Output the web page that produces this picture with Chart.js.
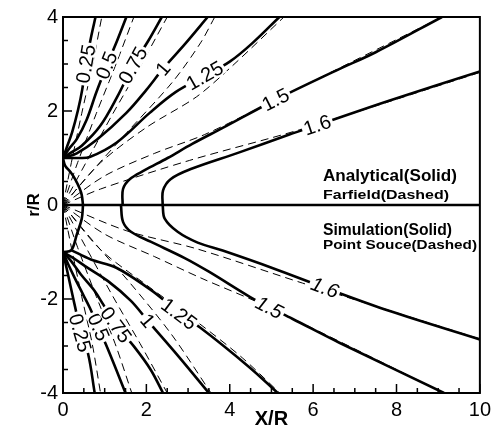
<!DOCTYPE html>
<html>
<head>
<meta charset="utf-8">
<script src="https://cdn.jsdelivr.net/npm/chart.js@4.4.1/dist/chart.umd.min.js"></script>
<style>
  html, body { margin: 0; padding: 0; background: #fff; }
  #wrap { width: 496px; height: 436px; }
</style>
</head>
<body>
<div id="wrap"><canvas id="chart"></canvas></div>
<script>
// contour levels (same for both halves)
const levels = ['0.25', '0.5', '0.75', '1', '1.25', '1.5', '1.6'];

// analytical solution, solid, r/R > 0  ([x, r] pairs)
const analytic025 = [[0, 1], [0.1, 1.25], [0.22, 1.55], [0.36, 2.02], [0.46, 2.45], [0.55, 3.0], [0.68, 3.6], [0.78, 4]];
const analytic05 = [[0, 1], [0.15, 1.2], [0.33, 1.4], [0.57, 1.82], [0.8, 2.4], [1.05, 2.97], [1.3, 3.5], [1.52, 4]];
const analytic075 = [[0, 1], [0.2, 1.12], [0.45, 1.26], [0.89, 1.68], [1.3, 2.3], [1.68, 2.97], [2.05, 3.5], [2.37, 4]];
const analytic1 = [[0, 1], [0.33, 1.1], [0.81, 1.39], [1.52, 1.96], [2.0, 2.45], [2.4, 2.9], [2.95, 3.45], [3.47, 4]];
const analytic125 = [[0, 1], [0.35, 1.0], [0.64, 1.02], [1.29, 1.33], [2.08, 1.96], [2.7, 2.4], [3.4, 2.75], [4.0, 3.05], [4.55, 3.45], [5.19, 4]];
const analytic15 = [[1.43, 0], [1.44, 0.34], [1.6, 0.55], [1.96, 0.74], [2.51, 1.0], [3.1, 1.3], [3.83, 1.64], [5.1, 2.24], [6.55, 2.86], [7.5, 3.25], [9.09, 4]];
const analytic16 = [[2.39, 0], [2.4, 0.31], [2.58, 0.55], [3.05, 0.76], [4.23, 1.12], [5.43, 1.5], [6.1, 1.7], [7.82, 2.22], [10, 2.84]];
const analyticArc = [[0, 1], [0.05, 0.84], [0.18, 0.7], [0.29, 0.55], [0.4, 0.35], [0.45, 0.21], [0.48, 0]];

// far-field approximation, dashed, r/R > 0
const farfield025 = [[0, 0], [0.2, 0.9], [0.45, 1.95], [0.7, 2.95], [0.93, 4]];
const farfield05 = [[0, 0], [0.35, 0.9], [0.8, 1.95], [1.25, 2.95], [1.7, 4]];
const farfield075 = [[0, 0], [0.55, 0.9], [1.2, 1.95], [1.85, 2.95], [2.5, 4]];
const farfield1 = [[0, 0], [0.8, 0.82], [1.53, 1.54], [2.63, 2.62], [3.3, 3.45], [3.64, 4]];
const farfield125 = [[0, 0], [0.9, 0.9], [2.0, 1.65], [3.2, 2.3], [4.05, 2.95], [5.3, 4]];
const farfield15 = [[0, 0], [1.0, 0.62], [2.2, 1.1], [3.4, 1.5], [5.1, 2.24], [9.09, 4]];
const farfield16 = [[0, 0], [0.9, 0.34], [3.04, 0.95], [5.67, 1.6], [10, 2.82]];

// simulation, solid, r/R < 0
const sim025 = [[0, -1], [0.05, -1.2], [0.12, -1.48], [0.24, -1.97], [0.31, -2.25], [0.41, -2.72], [0.6, -3.16], [0.76, -4]];
const sim05 = [[0, -1], [0.12, -1.25], [0.28, -1.55], [0.48, -1.9], [0.64, -2.18], [0.85, -2.6], [1.12, -3.16], [1.5, -4]];
const sim075 = [[0, -1], [0.2, -1.2], [0.43, -1.48], [0.76, -1.83], [0.96, -2.11], [1.27, -2.55], [1.72, -3.03], [2.1, -3.5], [2.4, -4]];
const sim1 = [[0, -1], [0.25, -1.13], [0.53, -1.3], [1.08, -1.62], [1.63, -2.04], [2.03, -2.46], [2.75, -3.2], [3.5, -4]];
const sim125 = [[0.2, -0.96], [0.67, -1.16], [1.29, -1.34], [2.08, -1.79], [2.44, -2.04], [2.78, -2.32], [3.28, -2.6], [4.47, -3.45], [5.15, -4]];
const sim15 = [[1.39, 0], [1.44, -0.36], [1.63, -0.57], [2.1, -0.78], [2.92, -1.13], [3.5, -1.42], [4.47, -1.95], [4.95, -2.18], [5.5, -2.42], [6.63, -2.93], [9.14, -4]];
const sim16 = [[2.39, 0], [2.44, -0.29], [2.75, -0.57], [3.23, -0.8], [3.83, -0.97], [5.02, -1.34], [6.28, -1.76], [7.82, -2.25], [10, -2.86]];
const simArc = [[0.48, 0], [0.45, -0.29], [0.33, -0.63], [0.2, -0.96], [0, -1]];

// point-source model, dashed, r/R < 0
const source025 = [[0, 0], [0.2, -0.9], [0.45, -1.95], [0.7, -2.95], [0.9, -4]];
const source05 = [[0, 0], [0.35, -0.9], [0.8, -1.95], [1.25, -2.95], [1.65, -4]];
const source075 = [[0, 0], [0.55, -0.9], [1.2, -1.95], [1.85, -2.95], [2.5, -4]];
const source1 = [[0, 0], [0.8, -0.85], [1.6, -1.65], [2.6, -2.75], [3.55, -4]];
const source125 = [[0, 0], [0.9, -0.95], [2.0, -1.7], [3.28, -2.53], [4.3, -3.25], [5.2, -4]];
const source15 = [[0, 0], [1.0, -0.62], [2.2, -1.1], [3.3, -1.55], [4.95, -2.18], [9.14, -4]];
const source16 = [[0, 0], [1.53, -0.55], [3.2, -0.93], [5.74, -1.66], [10, -2.85]];

const symmetryAxis = [[0, 0], [10, 0]];

// where each level's value is written along its line
const upperLabelX = [0.55, 1.05, 1.68, 2.4, 3.4, 5.1, 6.1];
const upperLabelY = [3.0, 2.97, 2.97, 2.9, 2.75, 2.24, 1.7];
const lowerLabelX = [0.41, 0.85, 1.27, 2.03, 2.78, 4.95, 6.28];
const lowerLabelY = [-2.72, -2.6, -2.55, -2.46, -2.32, -2.18, -1.76];

const upperSolid = [analytic025, analytic05, analytic075, analytic1, analytic125, analytic15, analytic16];
const lowerSolid = [sim025, sim05, sim075, sim1, sim125, sim15, sim16];
const upperDashed = [farfield025, farfield05, farfield075, farfield1, farfield125, farfield15, farfield16];
const lowerDashed = [source025, source05, source075, source1, source125, source15, source16];

const FONT = "'Liberation Sans', Arial, Helvetica, sans-serif";

const toPoints = arr => arr.map(p => ({ x: p[0], y: p[1] }));

const dashed = arr => ({
  data: toPoints(arr), showLine: true, pointRadius: 0, borderColor: '#000',
  borderWidth: 1, borderDash: [8, 5], tension: 0.3, fill: false
});
const solid = arr => ({
  data: toPoints(arr), showLine: true, pointRadius: 0, borderColor: '#000',
  borderWidth: 2.6, tension: 0.35, fill: false
});

const datasets = [
  ...upperDashed.map(dashed),
  ...lowerDashed.map(dashed),
  ...upperSolid.map(solid),
  ...lowerSolid.map(solid),
  solid(analyticArc),
  solid(simArc),
  { ...solid(symmetryAxis), tension: 0 }
];

// angle of a contour (in pixels) near a given pixel position
function lineAngle(xs, ys, pts, px, py) {
  let best = 0, bestD = Infinity;
  pts.forEach((p, i) => {
    const d = Math.hypot(xs.getPixelForValue(p[0]) - px, ys.getPixelForValue(p[1]) - py);
    if (d < bestD) { bestD = d; best = i; }
  });
  const a = pts[Math.max(best - 1, 0)], b = pts[Math.min(best + 1, pts.length - 1)];
  let ang = Math.atan2(ys.getPixelForValue(b[1]) - ys.getPixelForValue(a[1]),
                       xs.getPixelForValue(b[0]) - xs.getPixelForValue(a[0]));
  if (ang > Math.PI / 2) ang -= Math.PI;
  if (ang < -Math.PI / 2) ang += Math.PI;
  return ang;
}

function drawLabel(ctx, text, x, y, ang, italic) {
  ctx.save();
  ctx.translate(x, y);
  ctx.rotate(ang);
  ctx.font = (italic ? 'italic ' : '') + '20px ' + FONT;
  const w = ctx.measureText(text).width;
  ctx.fillStyle = '#fff';
  ctx.fillRect(-w / 2 - 2, -7.5, w + 4, 15);
  ctx.fillStyle = '#000';
  ctx.textAlign = 'center';
  ctx.textBaseline = 'middle';
  ctx.fillText(text, 0, 1);
  ctx.restore();
}

// text squeezed/stretched to a given width
function drawFitted(ctx, text, x, y, size, width) {
  ctx.save();
  ctx.font = 'bold ' + size + 'px ' + FONT;
  const w = ctx.measureText(text).width;
  ctx.translate(x, y);
  ctx.scale(width / w, 1);
  ctx.fillStyle = '#000';
  ctx.textAlign = 'left';
  ctx.textBaseline = 'alphabetic';
  ctx.fillText(text, 0, 0);
  ctx.restore();
}

const decorations = {
  id: 'decorations',
  afterDatasetsDraw(chart) {
    const { ctx, chartArea: ca, scales: { x: xs, y: ys } } = chart;

    levels.forEach((lv, i) => {
      let px = xs.getPixelForValue(upperLabelX[i]), py = ys.getPixelForValue(upperLabelY[i]);
      drawLabel(ctx, lv, px, py, lineAngle(xs, ys, upperSolid[i], px, py), false);
      px = xs.getPixelForValue(lowerLabelX[i]); py = ys.getPixelForValue(lowerLabelY[i]);
      const ang = lineAngle(xs, ys, lowerSolid[i], px, py);
      drawLabel(ctx, lv, px, py, ang, ang < 0.5);
    });

    // frame
    ctx.save();
    ctx.strokeStyle = '#000';
    ctx.lineWidth = 2;
    ctx.strokeRect(ca.left, ca.top, ca.right - ca.left, ca.bottom - ca.top);

    // inward tick marks on bottom and left axes, minor every 0.5
    ctx.lineWidth = 1.5;
    ctx.beginPath();
    for (let v = 0; v <= 10.001; v += 0.5) {
      const p = xs.getPixelForValue(v);
      const len = (Math.abs(v % 2) < 1e-6) ? 9 : 5;
      ctx.moveTo(p, ca.bottom);
      ctx.lineTo(p, ca.bottom - len);
    }
    for (let v = -4; v <= 4.001; v += 0.5) {
      const p = ys.getPixelForValue(v);
      const len = (Math.abs(v % 2) < 1e-6) ? 9 : 5;
      ctx.moveTo(ca.left, p);
      ctx.lineTo(ca.left + len, p);
    }
    ctx.stroke();
    ctx.restore();

    // captions for the two halves
    const x0 = ca.left + 260;
    const y0 = ys.getPixelForValue(0);
    drawFitted(ctx, 'Analytical(Solid)', x0, y0 - 24, 16, 134);
    drawFitted(ctx, 'Farfield(Dashed)', x0, y0 - 6, 13.5, 126);
    drawFitted(ctx, 'Simulation(Solid)', x0, y0 + 30, 16, 129);
    drawFitted(ctx, 'Point Souce(Dashed)', x0, y0 + 44, 13.5, 154);
  }
};

new Chart(document.getElementById('chart'), {
  type: 'scatter',
  data: { datasets },
  options: {
    responsive: true,
    maintainAspectRatio: false,
    animation: false,
    layout: { padding: { top: 13, right: 15, left: 0, bottom: 0 } },
    plugins: { legend: { display: false }, tooltip: { enabled: false } },
    scales: {
      x: {
        type: 'linear', min: 0, max: 10,
        ticks: { stepSize: 2, color: '#000', padding: 5, font: { family: FONT, size: 20 } },
        grid: { display: false, drawTicks: false },
        border: { display: false },
        title: { display: true, text: 'X/R', color: '#000', padding: { top: 0, bottom: 5 },
                 font: { family: FONT, size: 20, weight: 'bold' } },
        afterFit: s => { s.height = 43; }
      },
      y: {
        type: 'linear', min: -4, max: 4,
        ticks: { stepSize: 2, color: '#000', padding: 5, font: { family: FONT, size: 20 } },
        grid: { display: false, drawTicks: false },
        border: { display: false },
        title: { display: true, text: 'r/R', color: '#000', padding: { top: 24, bottom: 0 },
                 font: { family: FONT, size: 17, weight: 'bold' } },
        afterFit: s => { s.width = 63; }
      }
    }
  },
  plugins: [decorations]
});
</script>
</body>
</html>
